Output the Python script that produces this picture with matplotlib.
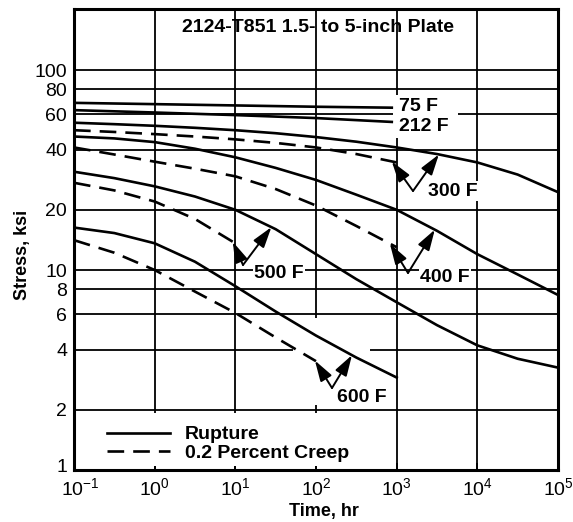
import numpy as np
import matplotlib
matplotlib.use("Agg")
import matplotlib.pyplot as plt
import matplotlib.transforms as mtransforms
from matplotlib.patches import Rectangle
from matplotlib.lines import Line2D

plt.rcParams['font.family'] = ['Liberation Sans', 'DejaVu Sans']
plt.rcParams['mathtext.fontset'] = 'custom'
plt.rcParams['mathtext.rm'] = 'Liberation Sans'
plt.rcParams['lines.scale_dashes'] = False

# ---------------- data ----------------
t_half = [0.1, 0.316, 1, 3.16, 10, 31.6, 100, 316, 1000, 3162, 1e4, 31623, 1e5]
t_to_1000 = t_half[:9]
t_to_100 = t_half[:7]
t_to_10 = t_half[:5]
t_low = [0.1, 1, 10, 100, 870]

rup_75 = [68.5, 67.5, 66.5, 65.5, 64.8]
rup_212 = [63.0, 61.3, 59.5, 57.5, 55.0]
rup_300 = [54.5, 53.6, 52.6, 51.4, 50.0, 48.3, 46.2, 43.8, 41.0, 38.0, 34.5, 30.0, 24.5]
crp_300 = [50.0, 49.0, 47.8, 46.5, 45.0, 43.2, 41.0, 38.0, 34.5]
rup_400 = [46.5, 45.5, 43.6, 40.4, 36.6, 32.4, 28.2, 23.8, 20.0, 15.7, 12.0, 9.5, 7.5]
crp_400 = [41.0, 37.8, 34.8, 32.1, 29.4, 25.4, 21.0, 16.6, 13.0]
rup_500 = [31.0, 28.8, 26.2, 23.3, 20.0, 16.0, 12.0, 9.0, 6.9, 5.3, 4.2, 3.6, 3.25]
crp_500 = [27.3, 25.0, 22.0, 18.0, 13.6]
rup_600 = [16.3, 15.3, 13.6, 11.0, 8.3, 6.2, 4.7, 3.65, 2.9]
crp_600 = [14.1, 12.2, 10.0, 7.8, 6.1, 4.6, 3.5]

y_ticks = [1, 2, 4, 6, 8, 10, 20, 40, 60, 80, 100]
y_tick_labels = ['1', '2', '4', '6', '8', '10', '20', '40', '60', '80', '100']
x_ticks = [1e-1, 1e0, 1e1, 1e2, 1e3, 1e4, 1e5]
x_exps = [-1, 0, 1, 2, 3, 4, 5]

title = "2124-T851 1.5- to 5-inch Plate"

# ---------------- layout ----------------
W, H = 573, 522
L, R, T, B = 74, 558, 9, 470
YTOP = 10 ** ((B - T) / 200.0)

fig = plt.figure(figsize=(W / 100, H / 100), dpi=100)
ax = fig.add_axes([L / W, 1 - B / H, (R - L) / W, (B - T) / H])
ax.set_xscale('log')
ax.set_yscale('log')
ax.set_xlim(0.1, 1e5)
ax.set_ylim(1, YTOP)


def p2d(px, py):
    x = 10 ** (-1 + (px - L) / (R - L) * 6)
    y = 10 ** ((B - py) / (B - T) * np.log10(YTOP))
    return x, y


def on_curve(t, ts, vs):
    return 10 ** np.interp(np.log10(t), np.log10(ts), np.log10(vs))


# grid / ticks
ax.set_axisbelow(True)
ax.grid(True, which='major', color='black', lw=1.3)
ax.minorticks_off()
ax.set_xticks(x_ticks)
ax.set_xticklabels([r'$\mathregular{10^{%d}}$' % e for e in x_exps], fontsize=14)
ax.set_yticks(y_ticks)
ax.set_yticklabels(y_tick_labels, fontsize=14)
ax.tick_params(axis='y', length=0, pad=5)
ax.tick_params(axis='x', direction='in', length=5, width=1.3, pad=5)
for s in ax.spines.values():
    s.set_linewidth(2.2)

xl = ax.get_xticklabels()
xl[0].set_transform(xl[0].get_transform() +
                    mtransforms.ScaledTranslation(6 / 100, 0, fig.dpi_scale_trans))
yl = ax.get_yticklabels()
yl[0].set_transform(yl[0].get_transform() +
                    mtransforms.ScaledTranslation(0, 4 / 100, fig.dpi_scale_trans))


def white_box(x0, y0, x1, y1):
    a = p2d(x0, y1)
    b = p2d(x1, y0)
    ax.add_patch(Rectangle(a, b[0] - a[0], b[1] - a[1], facecolor='white',
                           edgecolor='none', zorder=1))


white_box(80, 413, 345, 466)   # legend
white_box(393, 95, 458, 138)   # 75 F / 212 F
white_box(398, 165, 428, 203)  # 300 F arrows
white_box(293, 318, 370, 405)  # 600 F arrows

lw = 1.9
dash = (0, (12, 6.5))
ax.plot(t_low, rup_75, color='black', lw=lw, zorder=3)
ax.plot(t_low, rup_212, color='black', lw=lw, zorder=3)
ax.plot(t_half, rup_300, color='black', lw=lw, zorder=3)
ax.plot(t_to_1000, crp_300, color='black', lw=lw, ls=dash, zorder=3)
ax.plot(t_half, rup_400, color='black', lw=lw, zorder=3)
ax.plot(t_to_1000, crp_400, color='black', lw=lw, ls=dash, zorder=3)
ax.plot(t_half, rup_500, color='black', lw=lw, zorder=3)
ax.plot(t_to_10, crp_500, color='black', lw=lw, ls=dash, zorder=3)
ax.plot(t_to_1000, rup_600, color='black', lw=lw, zorder=3)
ax.plot(t_to_100, crp_600, color='black', lw=lw, ls=dash, zorder=3)

FS = 14
lab = dict(fontsize=FS, fontweight='bold', va='center', ha='left', zorder=5)
bb = dict(facecolor='white', edgecolor='none', pad=1.0)
ax.text(*p2d(399, 106), '75 F', **lab)
ax.text(*p2d(399, 126), '212 F', **lab)
ax.text(*p2d(428, 191), '300 F', bbox=bb, **lab)
ax.text(*p2d(420, 277), '400 F', bbox=bb, **lab)
ax.text(*p2d(254, 273), '500 F', bbox=bb, **lab)
ax.text(*p2d(337, 397), '600 F', bbox=bb, **lab)

aprops = dict(arrowstyle='-|>,head_length=0.9,head_width=0.28', lw=1.4,
              color='black', shrinkA=0, shrinkB=0, mutation_scale=14)


def varrow(vertex_px, tips):
    v = p2d(*vertex_px)
    for (t, ts, vs) in tips:
        ax.annotate('', xy=(t, on_curve(t, ts, vs)), xytext=v,
                    arrowprops=aprops, zorder=6)


varrow((413, 191), [(870, t_to_1000, crp_300), (3335, t_half, rup_300)])
varrow((408, 273), [(824, t_to_1000, crp_400), (2970, t_half, rup_400)])
varrow((243, 265), [(9.3, t_to_10, crp_500), (28, t_half, rup_500)])
varrow((332, 388), [(97, t_to_100, crp_600), (279, t_to_1000, rup_600)])

handles = [Line2D([], [], color='black', lw=lw),
           Line2D([], [], color='black', lw=lw, ls=dash)]
leg = ax.legend(handles, ['Rupture', '0.2 Percent Creep'], loc='lower left',
                bbox_to_anchor=((107 - L) / (R - L), (B - 462) / (B - T)),
                frameon=False, handlelength=3.25, handletextpad=0.75,
                labelspacing=0.05, borderpad=0, borderaxespad=0,
                prop=dict(family='Liberation Sans', weight='bold', size=FS))
leg.set_zorder(7)

fig.text(317.5 / W, 1 - 28 / H, title, ha='center', va='center',
         fontsize=FS, fontweight='bold')

ax.set_ylabel('Stress, ksi', fontsize=13, fontweight='bold')
ax.yaxis.set_label_coords((31 - L) / (R - L), (B - 255) / (B - T))
ax.set_xlabel('Time, hr', fontsize=13, fontweight='bold')
ax.xaxis.set_label_coords((324 - L) / (R - L), (B - 503) / (B - T))

fig.savefig('out.png', dpi=100)
